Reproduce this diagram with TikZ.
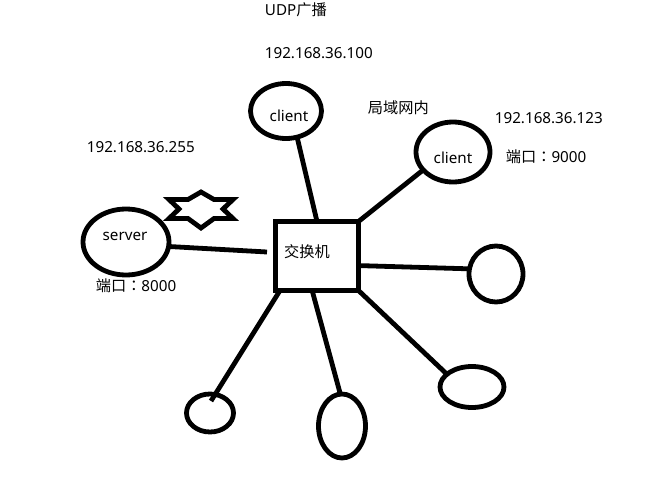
\documentclass[tikz,border=0pt]{standalone}
\usepackage{fontspec}
\setmainfont{Noto Sans}
\newfontfamily\cjk{Noto Sans CJK SC}
\newfontfamily\cjkmid{Noto Sans CJK TC}
\usetikzlibrary{shapes.geometric}

\begin{document}
\begin{tikzpicture}[
    x=0.75pt,
    y=-0.75pt,
    line width=3.6pt,
    peer/.style 2 args={
        draw, ellipse, inner sep=0pt, outer sep=0pt,
        minimum width=#1*0.75pt, minimum height=#2*0.75pt,
    },
    switchbox/.style={
        draw, rectangle, inner sep=0pt, outer sep=0pt, line width=3.9pt,
        minimum width=62.25pt, minimum height=51.75pt,
    },
    caption/.style={
        inner sep=0pt, font=\fontsize{11.4pt}{13pt}\selectfont,
    },
    note/.style={caption, anchor=west},
]
    \useasboundingbox (0,0) rectangle (658,482);

    \node[switchbox]     (hub)     at (317,256) {};
    \node[peer={71}{55}] (clientA) at (286,111) {};
    \node[peer={74}{60}] (clientB) at (453,152) {};
    \node[peer={86}{66}] (server)  at (126,242) {};
    \node[peer={54}{56}] (hostA)   at (496,274) {};
    \node[peer={64}{41}] (hostB)   at (472,387) {};
    \node[peer={47}{64}] (hostC)   at (342,426) {};
    \node[peer={47}{38}] (hostD)   at (210,413) {};

    \coordinate (serverEnd) at (267,252);
    \coordinate (hostDEnd)  at (211,401);

    \draw (clientA.-67)  -- (hub.north);
    \draw (clientB.211)  -- (hub.north east);
    \draw (server.-6)    -- (serverEnd);
    \draw (hub.-13)      -- (hostA.169);
    \draw (hub.223)      -- (hostDEnd);
    \draw (hub.262)      -- (hostC.93);
    \draw (hub.south east) -- (hostB.153);

    % broadcast mark
    \draw[line join=miter] (201,192) -- (214,199.5) -- (233,199.5) -- (223,209)
        -- (233,218.5) -- (214,218.5) -- (201,228) -- (188,218.5) -- (169,218.5)
        -- (179,209) -- (169,199.5) -- (188,199.5) -- cycle;

    \node[caption]       (labelA)   at (289,116) {client};
    \node[caption]       (labelB)   at (453,158) {client};
    \node[caption]       (labelS)   at (125,236) {server};
    \node[caption]       (labelHub) at (307,252) {\cjk 交换机};

    \node[note] (title)  at (262.5,10)  {UDP{\cjk 广播}};
    \node[note] (ipA)    at (262.5,53)  {192.168.36.100};
    \node[note] (lan)    at (365.5,108) {\cjk 局域网内};
    \node[note] (ipB)    at (492.5,118) {192.168.36.123};
    \node[note] (portB)  at (503.5,157) {{\cjk 端口}{\cjkmid ：}9000};
    \node[note] (ipS)    at (84.5,147)  {192.168.36.255};
    \node[note] (portS)  at (93.5,286)  {{\cjk 端口}{\cjkmid ：}8000};
\end{tikzpicture}
\end{document}
